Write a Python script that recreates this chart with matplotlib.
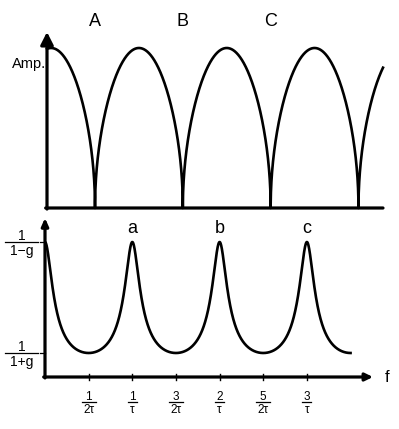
import matplotlib.pyplot as plt
import numpy as np
from matplotlib.lines import Line2D
from matplotlib.transforms import ScaledTranslation, blended_transform_factory

plt.rcParams['font.family'] = ['Liberation Sans', 'DejaVu Sans']

# values (f in units of 1/tau)
g = 0.6                                   # reflection factor, bottom panel
top_zeros = [0.573, 1.579, 2.585, 3.591]  # cusps of the top curve
top_period = 1.006
top_labels = ['A', 'B', 'C']
peak_f = [1, 2, 3]
peak_labels = ['a', 'b', 'c']
xtick_f = [0.5, 1, 1.5, 2, 2.5, 3]
xtick_num = ['1', '1', '3', '2', '5', '3']
xtick_den = ['2\u03c4', '\u03c4', '2\u03c4', '\u03c4', '2\u03c4', '\u03c4']
ytick_val = [1 / (1 - g), 1 / (1 + g)]
ytick_den = ['1\u2212g', '1+g']

W, H = 399, 429
fig = plt.figure(figsize=(W / 100, H / 100), dpi=100)

def box(l, r, t, b):
    return [l / W, 1 - b / H, (r - l) / W, (b - t) / H]

def frac(ax, x, y, num, den, trans, size, barw, dx=0, dy=0, gap=1.6):
    base = trans + ScaledTranslation(dx / 72, dy / 72, fig.dpi_scale_trans)
    up = base + ScaledTranslation(0, gap / 72, fig.dpi_scale_trans)
    dn = base + ScaledTranslation(0, -gap / 72, fig.dpi_scale_trans)
    ax.text(x, y, num, transform=up, ha='center', va='baseline', fontsize=size, clip_on=False)
    ax.text(x, y, den, transform=dn, ha='center', va='top', fontsize=size, clip_on=False)
    bt = fig.dpi_scale_trans + ScaledTranslation(x, y, base)
    ax.add_line(Line2D([-barw / 144, barw / 144], [0, 0], transform=bt, color='k', lw=0.9, clip_on=False))

def axis_arrows(ax, lw, yhead, xhead=None):
    for s in ax.spines.values():
        s.set_visible(False)
    ax.set_xticks([])
    ax.set_yticks([])
    ax.annotate('', xy=(0, 1), xytext=(0, -0.006), xycoords='axes fraction',
                arrowprops=dict(arrowstyle='-|>,head_length=%g,head_width=%g' % yhead,
                                lw=lw, color='k', shrinkA=0, shrinkB=0))
    if xhead is None:
        ax.annotate('', xy=(1, 0), xytext=(-0.004, 0), xycoords='axes fraction',
                    arrowprops=dict(arrowstyle='-', lw=lw, color='k', shrinkA=0, shrinkB=0))
    else:
        ax.annotate('', xy=(1, 0), xytext=(-0.004, 0), xycoords='axes fraction',
                    arrowprops=dict(arrowstyle='-|>,head_length=%g,head_width=%g' % xhead,
                                    lw=lw, color='k', shrinkA=0, shrinkB=0))

# ---- top panel: amplitude ----
ax1 = fig.add_axes(box(47, 383, 32, 208))
x0, x1 = 0.023, 3.872
ax1.set_xlim(x0, x1)
ax1.set_ylim(0, 1.1)
f = np.linspace(x0, x1, 4000)
f = np.sort(np.concatenate([f, top_zeros]))
amp = np.sqrt(np.abs(np.sin(np.pi * (f - top_zeros[0]) / top_period)))
ax1.plot(f, amp, color='k', lw=1.9, clip_on=False)
axis_arrows(ax1, 2.3, (0.75, 0.38))
for z, lab in zip(top_zeros, top_labels):
    ax1.text(z, 1.1375, lab, ha='center', va='baseline', fontsize=13, clip_on=False)
ax1.text(x0 - 0.005, 0.9, 'Amp.', ha='right', va='center', fontsize=10.5)

# ---- bottom panel: multiple-beam amplitude ----
ax2 = fig.add_axes(box(45, 373, 218, 377))
ppu = 111 / (ytick_val[0] - ytick_val[1])
ax2.set_xlim(0, (373 - 45) / 87.3)
ax2.set_ylim(ytick_val[1] - 24 / ppu, ytick_val[0] + 24 / ppu)
fb = np.linspace(0, 3.5, 3000)
ax2.plot(fb, 1 / np.sqrt(1 + g**2 - 2 * g * np.cos(2 * np.pi * fb)), color='k', lw=1.9)
axis_arrows(ax2, 2.3, (0.45, 0.2), (0.45, 0.22))
for p, lab in zip(peak_f, peak_labels):
    ax2.text(p, ytick_val[0] + 9 / ppu, lab, ha='center', va='baseline', fontsize=13)

xt = blended_transform_factory(ax2.transData, ax2.transAxes)
for t, n, d in zip(xtick_f, xtick_num, xtick_den):
    ax2.add_line(Line2D([t, t], [-0.02, 0.02], transform=xt, color='k', lw=1.0, clip_on=False))
    frac(ax2, t, 0, n, d, xt, 8.5, 10 if len(d) > 1 else 6.5, dy=-18)

yt = blended_transform_factory(ax2.transAxes, ax2.transData)
for v, d in zip(ytick_val, ytick_den):
    ax2.add_line(Line2D([-0.015, 0], [v, v], transform=yt, color='k', lw=0.9, clip_on=False))
    frac(ax2, 0, v, '1', d, yt, 10, 24, dx=-17)

ax2.text(1 + 14 / 328, 0, 'f', transform=ax2.transAxes, ha='center', va='center', fontsize=12)

fig.savefig('out.png', dpi=100)
